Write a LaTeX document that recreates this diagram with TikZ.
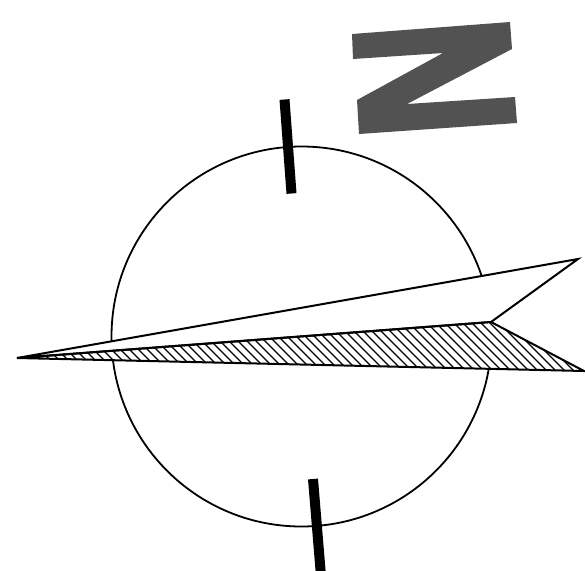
\documentclass[tikz,border=0pt]{standalone}
\begin{document}
\begin{tikzpicture}[
        x=1pt, y=-1pt,
        letra/.style={fill=black!68, draw=none},
        marca/.style={line width=10pt, black},
        aro/.style={draw, line width=1.8pt},
        aguja/.style={draw, line width=2pt, line join=miter},
        rayado/.style={line width=1.3pt}
    ]
    \useasboundingbox (0,0) rectangle (585,570);

    % letter
    \fill [letra] (352,34) -- (510,22) -- (512,49) -- (407,104) -- (515,97) -- (517,123)
        -- (359,134) -- (357,100) -- (443,53) -- (353,59) -- cycle;

    \coordinate (centro) at (301.5,336.5);
    \draw [aro] (centro) circle [radius=190];

    % ticks
    \coordinate (norteA) at (284.5,99.5);
    \coordinate (norteB) at (291.5,193.5);
    \coordinate (surA) at (313,479);
    \coordinate (surB) at (321,576);
    \draw [marca] (norteA) -- (norteB);
    \draw [marca] (surA) -- (surB);

    % needle
    \coordinate (punta) at (17,358);
    \coordinate (ala) at (578,259);
    \coordinate (cola) at (491,322);
    \coordinate (base) at (584,371);
    \fill [white] (punta) -- (ala) -- (cola) -- (base) -- cycle;
    \begin{scope}
        \clip (punta) -- (cola) -- (base) -- cycle;
        \foreach \c in {-212,-203,...,341}
            \draw [rayado] (0,\c) -- (600,600+\c);
    \end{scope}
    \draw [aguja] (punta) -- (ala) -- (cola) -- cycle;
    \draw [aguja] (punta) -- (cola) -- (base) -- cycle;
\end{tikzpicture}
\end{document}
